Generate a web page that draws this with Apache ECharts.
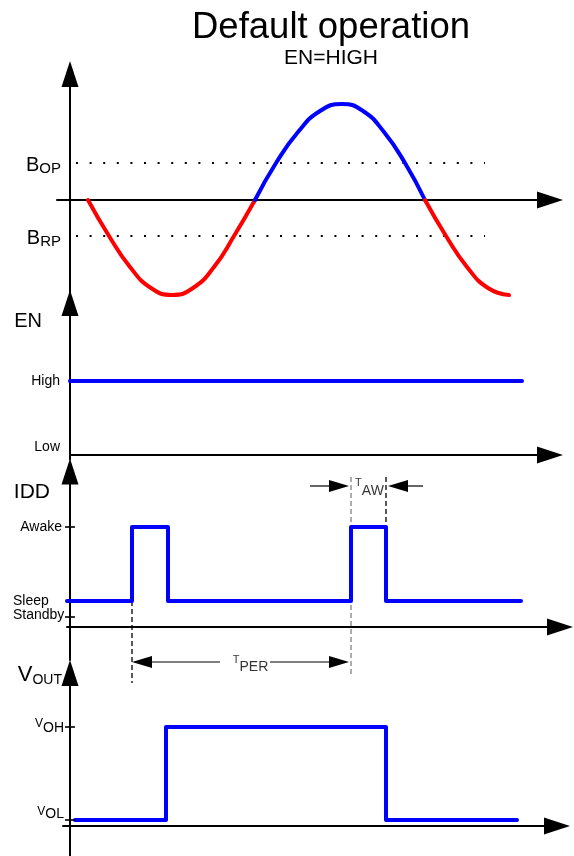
<!DOCTYPE html>
<html><head><meta charset="utf-8">
<script src="https://cdn.jsdelivr.net/npm/echarts@6/dist/echarts.min.js"></script>
<style>html,body{margin:0;padding:0;background:#fff}#c{width:574px;height:856px}</style>
</head><body><div id="c"></div>
<script>
// ---------- DATA (time in arbitrary units, shared by the four panels) ----------
// Panel 1: magnetic flux density B (a.u.)
const fieldRedA = [[18,0],[39,-3.6],[60,-6.7],[81,-8.8],[102,-9.5],[123,-8.8],[144,-6.7],[164,-3.6],[185,0]];
const fieldBlue = [[185,0],[206,3.7],[228,6.8],[250,8.9],[272,9.6],[293,8.9],[314,6.8],[335,3.7],[355,0]];
const fieldRedB = [[355,0],[376,-3.6],[397,-6.7],[418,-8.8],[439,-9.5]];
const thresholdLevels = [3.7, -3.6];
const thresholdNames = ['OP', 'RP'];
const thresholdSpan = [6, 415];

// Panel 2: EN
const enTimes = [0, 452];
const enLevels = [1, 1];
const enTickValues = [0, 1];
const enTickLabels = ['Low', 'High'];

// Panel 3: IDD
const iddTimes = [-3, 62, 98, 281, 316, 451];
const iddLevels = [2.6, 10, 2.6, 10, 2.6, 2.6];
const iddTickMarks = [10, 1];
const iddTickLabels = ['Awake', 'Sleep', 'Standby'];

// Panel 4: VOUT
const voutTimes = [5, 96, 316, 447];
const voutLevels = [0.2, 3.3, 0.2, 0.2];
const voutTickValues = [3.3, 0.2];
const voutTickLabels = ['OH', 'OL'];

// Timing annotations (in IDD panel units)
const guideTimes = [62, 281, 316];
const guideTops = [2.6, 15.0, 15.0];
const guideBottoms = [-5.6, -4.8, 10];
const tperArrows = [[150, 62, -3.5], [200, 279, -3.5]];
const tawArrows = [[240, 279, 14.1], [353, 318, 14.1]];
const timingLabels = [[180.5, -3.7, 'PER'], [299.5, 13.95, 'AW']];

// ---------- CHART ----------
const FONT = 'Liberation Sans, Arial, sans-serif';
const zip = (xs, ys) => xs.map((x, i) => [x, ys[i]]);
const tok = (size, pad, extra) => Object.assign({fontSize: size, color: '#000', fontFamily: FONT,
  verticalAlign: 'top', lineHeight: 40, padding: [pad, 0, 0, 0]}, extra || {});

const axisLine = {show: true, onZero: true, symbol: ['none', 'triangle'], symbolSize: [17, 26],
  lineStyle: {color: '#000', width: 2}};
const gridDefs = [
  {left: 57, top: 74, width: 493, height: 226},
  {left: 70, top: 303, width: 480, height: 156.5},
  {left: 67, top: 471.5, width: 493, height: 188.5},
  {left: 63, top: 673, width: 494, height: 183}
];
const xRanges = [[-13, 480], [0, 480], [-3, 490], [-7, 487]];
const yRanges = [[-10, 12.6], [-0.06, 2.054], [-3.3, 15.55], [-1, 5.1]];

const xAxes = xRanges.map((r, i) => ({type: 'value', gridIndex: i, min: r[0], max: r[1],
  axisLine: axisLine, axisTick: {show: false}, axisLabel: {show: false}, splitLine: {show: false}}));

const yBase = (i) => ({type: 'value', gridIndex: i, min: yRanges[i][0], max: yRanges[i][1],
  axisLine: axisLine, axisTick: {show: false}, splitLine: {show: false}, nameMoveOverlap: false});
const lblBase = {show: true, hideOverlap: false, showMinLabel: true, showMaxLabel: true};

const yAxes = [
  Object.assign(yBase(0), {axisLabel: Object.assign({}, lblBase, {customValues: thresholdLevels, margin: -4,
    formatter: v => '{b|B}{s|' + thresholdNames[thresholdLevels.indexOf(v)] + '}',
    rich: {b: tok(20, 12), s: tok(15, 18.5)}})}),
  Object.assign(yBase(1), {name: 'EN', nameLocation: 'end', nameGap: -18.5,
    nameTextStyle: {fontSize: 20, color: '#000', fontFamily: FONT, align: 'right', verticalAlign: 'middle', padding: [0, 28, 0, 0]},
    axisLabel: Object.assign({}, lblBase, {customValues: enTickValues, margin: 10, fontSize: 14, color: '#000', fontFamily: FONT,
      formatter: v => { const l = enTickLabels[enTickValues.indexOf(v)]; return l === 'Low' ? '{lo|' + l + '}' : l; },
      rich: {lo: tok(14, 5)}})}),
  Object.assign(yBase(2), {name: 'IDD', nameLocation: 'end', nameGap: -20.5,
    nameTextStyle: {fontSize: 21, color: '#000', fontFamily: FONT, align: 'right', verticalAlign: 'middle', padding: [0, 20, 0, 0]},
    axisLabel: Object.assign({}, lblBase, {customValues: iddTickMarks, margin: 2, fontSize: 14, color: '#000', fontFamily: FONT,
      formatter: v => v === iddTickMarks[0]
        ? '{aw|' + iddTickLabels[0] + '}'
        : '{sl|' + iddTickLabels[1] + '}\n{sb|' + iddTickLabels[2] + '}',
      rich: {aw: {fontSize: 14, color: '#000', fontFamily: FONT, padding: [0, 3, 0, 0]},
        sl: {fontSize: 14, color: '#000', fontFamily: FONT, width: 52, align: 'left', lineHeight: 13},
        sb: {fontSize: 14, color: '#000', fontFamily: FONT, width: 52, align: 'left', padding: [0, 0, 17, 0]}}})}),
  Object.assign(yBase(3), {name: '{v|V}{s|OUT}', nameLocation: 'end', nameGap: -4,
    nameTextStyle: {align: 'right', verticalAlign: 'middle', padding: [0, 8, 0, 0],
      rich: {v: tok(22, 7), s: tok(14, 16)}},
    axisLabel: Object.assign({}, lblBase, {customValues: voutTickValues, margin: -1,
      formatter: v => { const l = voutTickLabels[voutTickValues.indexOf(v)];
        return l === 'OH' ? '{vh|V}{oh|OH}' : '{vl|V}{ol|OL}'; },
      rich: {vh: tok(12, 11), oh: tok(14, 14), vl: tok(12, 5.5), ol: tok(14, 7.5)}})})
];

function lineSeries(grid, data, color, extra) {
  return Object.assign({type: 'line', xAxisIndex: grid, yAxisIndex: grid, data: data, showSymbol: false,
    symbol: 'none', silent: true, lineStyle: {color: color, width: 4, cap: 'round', join: 'round'}, z: 5}, extra || {});
}

const series = [
  lineSeries(0, fieldRedA, '#ff0000', {smooth: 0.5}),
  lineSeries(0, fieldBlue, '#0000ff', {smooth: 0.5}),
  lineSeries(0, fieldRedB, '#ff0000', {smooth: 0.5}),
  ...thresholdLevels.map(l => lineSeries(0, thresholdSpan.map(t => [t, l]), '#000',
    {lineStyle: {color: '#000', width: 2, type: [2, 11.6], cap: 'butt'}, z: 3})),
  lineSeries(1, zip(enTimes, enLevels), '#0000ff'),
  lineSeries(2, zip(iddTimes, iddLevels), '#0000ff', {step: 'end'}),
  lineSeries(3, zip(voutTimes, voutLevels), '#0000ff', {step: 'end'}),
  ...guideTimes.map((t, i) => lineSeries(2, [[t, guideTops[i]], [t, guideBottoms[i]]], '#000',
    {clip: false, z: 3, lineStyle: {color: i === 1 ? '#808080' : '#000', width: 1.3, type: [5, 3]}})),
  {type: 'scatter', xAxisIndex: 2, yAxisIndex: 2, data: iddTickMarks.map(v => [0, v]), symbol: 'rect',
    symbolSize: [10, 2], itemStyle: {color: '#000'}, silent: true, z: 6},
  {type: 'scatter', xAxisIndex: 3, yAxisIndex: 3, data: voutTickValues.map(v => [0, v]), symbol: 'rect',
    symbolSize: [10, 2], itemStyle: {color: '#000'}, silent: true, z: 6},
  {type: 'custom', xAxisIndex: 2, yAxisIndex: 2, clip: false, silent: true, z: 6,
    data: tperArrows.concat(tawArrows),
    renderItem: function (params, api) {
      const tail = api.coord([api.value(0), api.value(2)]);
      const tip = api.coord([api.value(1), api.value(2)]);
      const dir = tip[0] > tail[0] ? 1 : -1;
      const L = 20, H = 12;
      const base = tip[0] - dir * L;
      return {type: 'group', children: [
        {type: 'line', shape: {x1: tail[0], y1: tail[1], x2: base, y2: tip[1]}, style: {stroke: '#000', lineWidth: 1.2}},
        {type: 'polygon', shape: {points: [[tip[0], tip[1]], [base, tip[1] - H / 2], [base, tip[1] + H / 2]]}, style: {fill: '#000'}}
      ]};
    }},
  {type: 'scatter', xAxisIndex: 2, yAxisIndex: 2, clip: false, silent: true, symbolSize: 1,
    itemStyle: {color: 'rgba(0,0,0,0)'},
    data: timingLabels.map(d => ({value: [d[0], d[1]], name: d[2]})),
    label: {show: true, position: 'inside', color: '#000',
      formatter: p => '{t|T}{s|' + p.name + '}',
      rich: {t: tok(11, 10), s: tok(14, 16.5)}}}
];

const chart = echarts.init(document.getElementById('c'), null, {renderer: 'canvas'});
chart.setOption({
  animation: false,
  backgroundColor: '#fff',
  textStyle: {fontFamily: FONT},
  title: [
    {text: 'Default operation', left: 326, top: 4, textAlign: 'center',
      textStyle: {fontSize: 36.5, fontWeight: 'normal', color: '#000', fontFamily: FONT}},
    {text: 'EN=HIGH', left: 326, top: 43, textAlign: 'center',
      textStyle: {fontSize: 21, fontWeight: 'normal', color: '#000', fontFamily: FONT}}
  ],
  grid: gridDefs.map(g => Object.assign({outerBoundsMode: 'none', containLabel: false}, g)),
  xAxis: xAxes,
  yAxis: yAxes,
  series: series
});
</script></body></html>
